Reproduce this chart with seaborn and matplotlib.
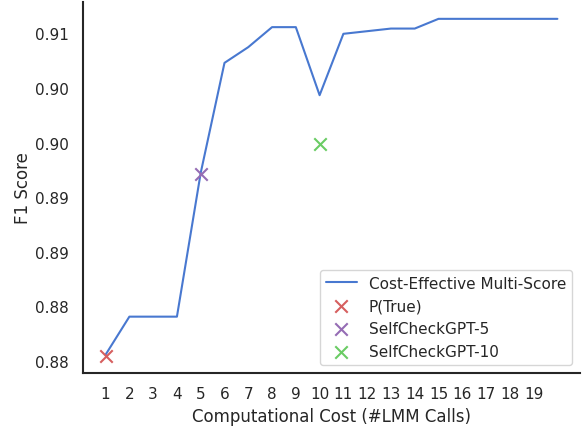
import matplotlib
matplotlib.use("Agg")
import matplotlib.pyplot as plt
import seaborn as sns
import pandas as pd
from matplotlib.ticker import FixedLocator, FormatStrFormatter

# Data
cost = list(range(1, 21))
f1_multi = [0.87808, 0.88156, 0.88156, 0.88156, 0.89472, 0.90479, 0.90623, 0.90806,
            0.90806, 0.90183, 0.90745, 0.90769, 0.90793, 0.90793, 0.90882, 0.90882,
            0.90882, 0.90882, 0.90882, 0.90882]
baseline_names = ["P(True)", "SelfCheckGPT-5", "SelfCheckGPT-10"]
baseline_cost = [1, 5, 10]
baseline_f1 = [0.87799, 0.89465, 0.89737]
xtick_vals = list(range(1, 20))
ytick_vals = [0.8775, 0.8825, 0.8875, 0.8925, 0.8975, 0.9025, 0.9075]

sns.set_theme(style="white")
pal = sns.color_palette("muted")
baseline_colors = [pal[3], pal[4], pal[2]]

fig = plt.figure(figsize=(5.84, 4.27), dpi=100)
ax = fig.add_axes([83/584, 1 - 373.5/427, (580 - 83)/584, (373.5 - 3)/427])

df_line = pd.DataFrame({"cost": cost, "f1": f1_multi})
sns.lineplot(data=df_line, x="cost", y="f1", ax=ax, color=pal[0], linewidth=1.5,
             label="Cost-Effective Multi-Score")
for name, c, v, col in zip(baseline_names, baseline_cost, baseline_f1, baseline_colors):
    sns.scatterplot(x=[c], y=[v], ax=ax, marker="x", s=80, color=col, linewidth=1.5,
                    label=name, zorder=3)

ax.set_xticks(xtick_vals)
ax.yaxis.set_major_locator(FixedLocator(ytick_vals))
ax.yaxis.set_major_formatter(FormatStrFormatter("%.2f"))
ax.tick_params(axis="both", labelsize=11, length=0)
ax.tick_params(axis="x", pad=10)
ax.tick_params(axis="y", pad=10)
ax.set_xlabel("Computational Cost (#LMM Calls)", fontsize=12, labelpad=4)
ax.set_ylabel("F1 Score", fontsize=12, labelpad=2)
sns.despine(ax=ax)
for s in ["left", "bottom"]:
    ax.spines[s].set_color("#262626")
    ax.spines[s].set_linewidth(1.5)

ax.legend(loc="lower right", fontsize=11, frameon=True)

fig.savefig("out.png", dpi=100)
